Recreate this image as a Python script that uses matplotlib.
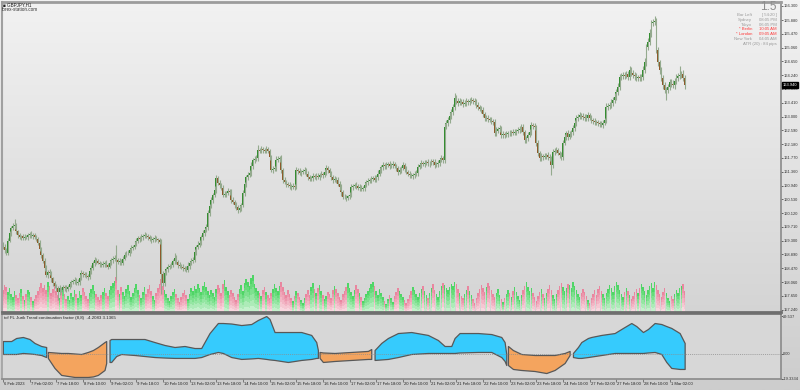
import numpy as np
import matplotlib.pyplot as plt
from matplotlib.colors import LinearSegmentedColormap, to_rgb
from matplotlib.transforms import blended_transform_factory

plt.rcParams['font.family'] = ['Liberation Sans', 'DejaVu Sans']

# ---------------- data: GBPJPY H1, 410 bars ----------------
first_open = 159.20
close = [
    159.12, 159.02, 158.94, 159.30, 159.52, 159.68, 159.74, 159.77, 159.58, 159.47,
    159.41, 159.44, 159.38, 159.42, 159.40, 159.46, 159.49, 159.44, 159.47, 159.40,
    159.35, 159.24, 159.05, 158.88, 158.70, 158.49, 158.28, 158.36, 158.34, 158.18,
    158.04, 157.96, 157.90, 157.78, 157.88, 157.84, 157.92, 157.90, 157.86, 157.93,
    158.00, 158.07, 158.10, 158.13, 158.04, 158.07, 158.20, 158.34, 158.30, 158.28,
    158.25, 158.22, 158.38, 158.49, 158.62, 158.73, 158.68, 158.64, 158.60, 158.58,
    158.61, 158.64, 158.57, 158.52, 158.63, 158.73, 158.76, 158.79, 158.73, 158.66,
    158.70, 158.64, 158.76, 158.88, 158.92, 158.94, 159.02, 159.09, 159.12, 159.18,
    159.30, 159.38, 159.36, 159.41, 159.45, 159.47, 159.43, 159.41, 159.36, 159.32,
    159.35, 159.38, 159.34, 159.32, 159.26, 158.30, 158.04, 158.34, 158.45, 158.52,
    158.55, 158.58, 158.70, 158.79, 158.66, 158.58, 158.55, 158.52, 158.49, 158.46,
    158.43, 158.55, 158.64, 158.70, 158.73, 158.95, 159.12, 159.18, 159.24, 159.40,
    159.53, 159.62, 159.71, 160.13, 160.33, 160.52, 160.66, 160.81, 161.17, 161.02,
    160.95, 160.87, 160.67, 160.70, 160.72, 160.78, 160.75, 160.52, 160.45, 160.37,
    160.30, 160.22, 160.28, 160.37, 160.72, 160.98, 161.20, 161.26, 161.32, 161.52,
    161.71, 161.74, 161.77, 162.00, 161.97, 162.02, 162.00, 161.98, 162.02, 161.96,
    161.80, 161.41, 161.44, 161.47, 161.71, 161.74, 161.77, 161.41, 161.11, 161.05,
    160.99, 160.96, 160.93, 160.90, 160.94, 160.90, 161.41, 161.38, 161.33, 161.35,
    161.38, 161.41, 161.30, 161.20, 161.15, 161.17, 161.22, 161.20, 161.24, 161.21,
    161.26, 161.29, 161.26, 161.36, 161.47, 161.40, 161.32, 161.20, 161.11, 161.14,
    161.11, 161.00, 160.90, 160.74, 160.61, 160.60, 160.58, 160.62, 160.67, 160.90,
    160.93, 160.96, 160.92, 160.88, 160.90, 160.85, 160.87, 160.97, 161.05, 161.08,
    161.11, 161.14, 161.17, 161.12, 161.20, 161.30, 161.41, 161.50, 161.56, 161.52,
    161.56, 161.58, 161.53, 161.56, 161.59, 161.52, 161.47, 161.35, 161.42, 161.47,
    161.56, 161.44, 161.35, 161.30, 161.26, 161.24, 161.26, 161.30, 161.32, 161.50,
    161.56, 161.62, 161.60, 161.63, 161.65, 161.61, 161.62, 161.66, 161.65, 161.56,
    161.60, 161.62, 161.70, 161.77, 161.71, 162.69, 162.80, 162.90, 163.02, 163.14,
    163.29, 163.56, 163.48, 163.41, 163.46, 163.44, 163.38, 163.41, 163.47, 163.44,
    163.48, 163.50, 163.47, 163.44, 163.36, 163.29, 163.24, 163.20, 163.08, 162.96,
    162.96, 162.93, 162.90, 162.87, 162.84, 162.51, 162.58, 162.63, 162.66, 162.45,
    162.48, 162.45, 162.49, 162.51, 162.50, 162.54, 162.52, 162.54, 162.57, 162.60,
    162.64, 162.69, 162.54, 162.30, 162.36, 162.45, 162.54, 162.75, 162.72, 162.69,
    162.21, 161.91, 161.77, 161.82, 161.80, 161.83, 161.85, 161.80, 161.77, 161.56,
    161.94, 161.97, 162.00, 161.92, 161.85, 161.80, 162.21, 162.38, 162.51, 162.39,
    162.47, 162.54, 162.66, 162.81, 162.96, 163.00, 163.05, 163.02, 162.99, 162.97,
    162.96, 163.05, 162.97, 162.90, 162.87, 162.84, 162.83, 162.81, 162.78, 162.75,
    162.82, 162.90, 163.29, 163.32, 163.35, 163.42, 163.50, 163.59, 163.74, 163.88,
    164.18, 164.21, 164.24, 164.22, 164.27, 164.18, 164.39, 164.30, 164.24, 164.20,
    164.15, 164.17, 164.15, 164.18, 164.40, 164.63, 165.08, 165.23, 165.50, 165.79,
    165.82, 165.85, 164.99, 164.63, 164.39, 164.15, 163.94, 163.79, 163.80, 163.88,
    164.03, 163.98, 163.94, 164.06, 164.15, 164.20, 164.24, 164.28, 164.15, 163.94,
]
# upper / lower shadows in pips (0.01)
wick_up = [
    6, 8, 5, 9, 7, 6, 10, 18, 6, 5, 7, 4, 6, 8, 5, 7, 6, 9, 5, 6,
    7, 5, 8, 6, 4, 9, 7, 5, 8, 6, 5, 7, 4, 6, 9, 5, 7, 6, 8, 5,
    6, 7, 5, 9, 6, 8, 10, 7, 5, 6, 8, 5, 7, 9, 6, 8, 5, 7, 6, 5,
    8, 6, 7, 5, 9, 6, 8, 7, 39, 6, 8, 5, 7, 9, 6, 8, 5, 7, 6, 10,
    8, 6, 7, 9, 5, 8, 6, 7, 5, 9, 6, 8, 7, 5, 6, 8, 10, 7, 6, 9,
    6, 8, 5, 15, 7, 6, 9, 5, 8, 6, 7, 10, 6, 8, 7, 9, 6, 12, 8, 7,
    9, 6, 10, 8, 7, 9, 6, 11, 10, 7, 8, 6, 9, 7, 5, 8, 6, 9, 7, 6,
    8, 7, 9, 6, 10, 8, 7, 9, 8, 12, 7, 9, 8, 15, 7, 10, 8, 6, 9, 7,
    8, 6, 9, 7, 10, 8, 6, 9, 7, 8, 6, 7, 9, 5, 8, 6, 9, 7, 8, 6,
    7, 9, 6, 8, 7, 5, 9, 6, 8, 7, 6, 9, 7, 8, 10, 6, 8, 7, 5, 9,
    6, 8, 7, 9, 6, 8, 7, 5, 9, 8, 6, 7, 9, 6, 8, 7, 5, 8, 6, 9,
    7, 8, 6, 9, 7, 10, 8, 6, 9, 7, 8, 6, 10, 7, 9, 6, 8, 7, 9, 6,
    8, 7, 9, 6, 8, 7, 5, 9, 8, 10, 7, 9, 6, 8, 7, 9, 6, 8, 7, 9,
    6, 8, 7, 9, 6, 12, 10, 9, 11, 10, 8, 15, 9, 8, 10, 7, 9, 8, 10, 7,
    9, 8, 7, 10, 8, 9, 7, 8, 10, 7, 9, 8, 6, 9, 7, 8, 10, 7, 9, 6,
    8, 7, 9, 6, 8, 7, 10, 8, 6, 9, 7, 8, 10, 7, 6, 9, 8, 10, 7, 8,
    7, 9, 6, 8, 7, 9, 6, 8, 7, 5, 10, 8, 9, 7, 6, 8, 10, 9, 7, 8,
    9, 7, 10, 8, 9, 8, 10, 7, 9, 8, 11, 9, 7, 8, 6, 9, 7, 8, 6, 9,
    8, 7, 12, 9, 8, 10, 9, 11, 8, 12, 10, 9, 8, 10, 9, 8, 12, 9, 8, 10,
    9, 8, 10, 9, 11, 12, 10, 11, 12, 9, 10, 15, 8, 9, 7, 10, 8, 9, 7, 10,
    9, 8, 10, 9, 12, 10, 27, 9, 11, 8,
]
wick_dn = [
    7, 10, 6, 8, 5, 7, 6, 8, 7, 9, 6, 8, 5, 7, 6, 8, 7, 5, 9, 6,
    6, 8, 7, 9, 8, 10, 7, 9, 8, 10, 9, 8, 10, 25, 9, 8, 7, 9, 8, 6,
    7, 9, 6, 8, 7, 5, 9, 6, 8, 7, 6, 9, 7, 8, 6, 9, 7, 5, 8, 6,
    7, 9, 6, 8, 5, 7, 9, 8, 60, 7, 9, 6, 8, 5, 7, 6, 9, 8, 6, 7,
    5, 7, 9, 6, 8, 7, 5, 9, 7, 8, 6, 9, 5, 8, 7, 60, 10, 8, 6, 9,
    7, 8, 6, 9, 7, 10, 8, 6, 9, 7, 8, 6, 9, 7, 8, 6, 9, 7, 8, 6,
    7, 9, 6, 8, 10, 7, 9, 6, 8, 7, 9, 6, 8, 7, 9, 6, 8, 10, 7, 9,
    8, 10, 7, 9, 6, 8, 7, 9, 6, 8, 7, 9, 6, 8, 7, 6, 9, 7, 8, 6,
    9, 7, 8, 6, 9, 7, 8, 10, 9, 7, 8, 6, 9, 8, 7, 9, 6, 8, 7, 9,
    6, 8, 7, 9, 8, 6, 9, 7, 8, 6, 9, 7, 8, 6, 9, 7, 8, 10, 9, 7,
    8, 7, 9, 10, 8, 7, 9, 6, 8, 7, 9, 6, 8, 7, 9, 8, 6, 9, 7, 8,
    6, 9, 7, 8, 6, 9, 7, 8, 10, 7, 9, 6, 8, 7, 9, 6, 8, 10, 7, 9,
    7, 9, 6, 8, 10, 7, 9, 8, 6, 9, 7, 8, 6, 9, 7, 8, 10, 7, 9, 8,
    7, 9, 8, 6, 9, 8, 7, 9, 8, 10, 9, 8, 10, 9, 7, 8, 9, 7, 8, 10,
    8, 7, 9, 8, 10, 9, 8, 10, 9, 8, 10, 9, 7, 8, 10, 9, 8, 7, 9, 10,
    8, 9, 7, 10, 8, 9, 7, 8, 9, 7, 8, 10, 9, 8, 10, 9, 7, 8, 9, 10,
    9, 8, 10, 9, 8, 7, 9, 8, 10, 30, 8, 9, 7, 8, 9, 10, 8, 7, 9, 8,
    7, 9, 8, 10, 9, 8, 7, 9, 8, 10, 9, 8, 7, 9, 8, 10, 9, 8, 9, 7,
    9, 8, 10, 9, 8, 9, 10, 8, 9, 10, 9, 8, 10, 9, 8, 9, 10, 8, 9, 10,
    9, 10, 8, 9, 10, 9, 11, 10, 9, 12, 10, 9, 10, 11, 12, 10, 11, 9, 29, 10,
    9, 10, 8, 11, 9, 10, 8, 10, 9, 11,
]
# tick volume, hundreds of ticks
vol = [
    22, 27, 25, 20, 24, 18, 15, 21, 17, 14, 19, 23, 16, 12, 18, 22, 20, 15, 11, 13,
    17, 21, 25, 29, 24, 27, 22, 30, 26, 19, 23, 28, 21, 17, 14, 20, 24, 18, 13, 16,
    12, 19, 15, 22, 18, 14, 21, 17, 24, 20, 16, 13, 19, 23, 27, 21, 18, 15, 12, 17,
    20, 24, 19, 16, 22, 26, 29, 31, 35, 22, 18, 25, 20, 16, 23, 27, 21, 15, 19, 24,
    28, 22, 17, 14, 20, 25, 18, 23, 27, 21, 16, 12, 19, 24, 28, 33, 26, 22, 18, 14,
    11, 16, 20, 23, 18, 14, 10, 15, 19, 22, 17, 13, 18, 24, 21, 26, 23, 28, 24, 20,
    26, 30, 25, 21, 17, 22, 19, 15, 23, 27, 24, 19, 28, 32, 25, 21, 17, 22, 19, 15,
    12, 18, 23, 27, 21, 29, 33, 30, 26, 34, 37, 28, 24, 21, 19, 16, 22, 25, 20, 17,
    14, 19, 23, 28, 24, 21, 26, 30, 25, 20, 17, 22, 18, 14, 11, 16, 21, 19, 15, 12,
    9, 14, 18, 22, 17, 25, 29, 23, 19, 24, 27, 21, 17, 13, 16, 20, 18, 14, 22, 26,
    23, 19, 15, 12, 18, 21, 25, 29, 24, 20, 16, 22, 27, 23, 19, 15, 11, 14, 18, 21,
    24, 28, 30, 26, 21, 17, 23, 19, 15, 11, 8, 13, 17, 14, 10, 16, 20, 24, 21, 18,
    15, 12, 9, 13, 17, 21, 25, 22, 18, 15, 19, 23, 26, 21, 17, 14, 19, 24, 28, 22,
    18, 15, 21, 26, 29, 27, 24, 22, 25, 28, 26, 30, 28, 23, 19, 16, 14, 18, 22, 26,
    21, 17, 13, 9, 14, 19, 23, 27, 24, 20, 25, 29, 26, 22, 18, 15, 19, 23, 17, 13,
    10, 14, 18, 22, 19, 15, 21, 25, 20, 16, 12, 17, 22, 26, 30, 25, 21, 24, 19, 15,
    11, 16, 20, 23, 18, 14, 19, 23, 27, 22, 17, 13, 18, 22, 26, 29, 25, 21, 24, 28,
    27, 24, 30, 26, 22, 18, 15, 19, 23, 20, 16, 12, 9, 14, 18, 22, 17, 23, 26, 21,
    18, 14, 19, 23, 27, 24, 20, 26, 30, 27, 22, 18, 15, 20, 24, 21, 17, 13, 16, 20,
    23, 19, 24, 28, 25, 21, 17, 22, 26, 29, 24, 30, 27, 22, 18, 15, 20, 24, 19, 14,
    11, 16, 13, 18, 22, 19, 24, 26, 28, 21,
]

price_ticks = [166.300, 165.880, 165.470, 165.060, 164.650, 164.240, 163.830,
               163.410, 163.000, 162.590, 162.180, 161.770, 161.360, 160.940,
               160.530, 160.120, 159.710, 159.300, 158.890, 158.470, 158.060,
               157.650, 157.240]
last_price = 163.940

time_labels = ['6 Feb 2023', '7 Feb 02:00', '7 Feb 18:00', '8 Feb 10:00', '9 Feb 02:00',
               '9 Feb 18:00', '10 Feb 10:00', '13 Feb 02:00', '13 Feb 18:00', '14 Feb 10:00',
               '15 Feb 02:00', '15 Feb 18:00', '16 Feb 10:00', '17 Feb 02:00', '17 Feb 18:00',
               '20 Feb 10:00', '21 Feb 02:00', '21 Feb 18:00', '22 Feb 10:00', '23 Feb 02:00',
               '23 Feb 18:00', '24 Feb 10:00', '27 Feb 02:00', '27 Feb 18:00', '28 Feb 10:00',
               '1 Mar 02:00']
label_step = 16

# Jurik trend continuation factor (upper / lower band, trend state)
ind_bar = [0, 5, 8, 12, 16, 19, 23, 26,
           27, 31, 35, 39, 43, 47, 51, 54, 57, 61, 62,
           64, 65, 68, 71, 79, 85, 91, 97, 103, 109, 115, 119, 124, 129, 132, 137, 143, 149,
           153, 158, 160, 163, 171, 179, 185, 188, 189,
           190, 192, 199, 209, 219, 221,
           223, 227, 231, 237, 245, 255, 261, 265, 269, 271, 274, 285, 293, 299, 301, 302,
           303, 306, 311, 319, 326, 331, 337, 340,
           342, 345, 347, 351, 353, 359, 367, 372, 377, 380, 384, 387, 391, 395, 398, 401,
           406, 409]
ind_up = [10.2, 10.2, 12.6, 13.4, 11.8, 8.7, 6.3, 5.5,
          1.6, 1.2, 0.8, 0.8, 0.4, 0.0, 1.6, 3.1, 5.5, 9.4, 10.2,
          11.0, 11.8, 11.8, 11.8, 11.8, 11.8, 9.4, 7.1, 5.5, 6.3, 4.7, 4.7, 16.5, 24.4, 24.4,
          24.0, 22.8, 23.6, 26.8, 29.9, 27.6, 17.3, 17.3, 17.3, 15.0, 9.4, 3.1,
          1.6, 1.2, 0.8, 1.6, 2.4, 3.9,
          3.1, 8.7, 12.6, 16.5, 17.3, 15.0, 11.0, 6.3, 6.3, 12.6, 16.5, 16.5, 15.7, 13.4, 9.4, 0.0,
          6.3, 3.1, 0.0, -0.8, -0.8, -0.8, 0.8, 2.4,
          0.8, 5.5, 9.4, 12.6, 13.4, 15.0, 16.5, 20.5, 24.4, 22.0, 17.3, 19.7, 24.4, 23.6,
          22.0, 20.5, 16.5, 8.7]
ind_dn = [0.0, 0.0, 0.0, 0.8, 0.4, 0.0, -0.8, -2.4,
          -3.1, -11.0, -16.5, -17.3, -18.1, -18.1, -18.1, -17.7, -16.5, -12.6, -7.1,
          -6.3, -6.3, -1.6, 0.0, -0.8, -1.6, -2.4, -2.8, -3.1, -3.1, -3.1, -2.4, 0.0, 1.6, 0.8,
          -2.4, -3.9, -3.5, -3.1, -3.9, -4.3, -4.7, -6.3, -4.7, -3.9, -3.1, -3.1,
          -3.1, -6.3, -5.5, -4.7, -3.9, -3.9,
          -4.7, -4.3, -3.9, -2.4, 0.0, 0.8, 0.8, 0.8, 0.8, 0.8, 1.2, 1.6, 1.6, -2.4, -5.5, -8.7,
          -8.7, -11.8, -12.6, -13.4, -15.0, -12.6, -7.1, -0.8,
          -2.4, -3.1, -3.1, -2.4, -2.0, -0.8, 0.8, 0.8, 0.8, 0.8, 0.8, 1.2, 1.6, 0.0,
          -6.3, -11.0, -11.8, -11.8]
ind_trend = [1] * 8 + [-1] * 11 + [1] * 27 + [-1] * 6 + [1] * 16 + [-1] * 8 + [1] * 18
ind_ticks = [29.537, 0.0, -19.3334]
ind_ticklabels = ['29.537', '0.00', '-19.3334']

# ---------------- figure ----------------
W, H = 800, 390
fig = plt.figure(figsize=(W / 100, H / 100), dpi=100)


def box(x0, y0, x1, y1):
    # pixel box (top-left origin) -> figure fraction
    return [x0 / W, 1 - y1 / H, (x1 - x0) / W, (y1 - y0) / H]


bg = fig.add_axes([0, 0, 1, 1], zorder=-10)
bg.imshow(np.linspace(0, 1, 256).reshape(-1, 1), aspect='auto', extent=[0, 1, 0, 1],
          cmap=LinearSegmentedColormap.from_list('bg', ['#f2f2f2', '#cdcdcd']))
bg.axis('off')

ax = fig.add_axes(box(2, 2, 781, 312))
ax.set_facecolor('none')
axv = ax.twinx()
axv.set_zorder(ax.get_zorder() - 1)
ax.set_zorder(axv.get_zorder() + 1)
ax2 = fig.add_axes(box(2, 314, 781, 379))
ax2.set_facecolor('#d7d7d7')

c = np.array(close)
n = len(c)
o = np.r_[first_open, c[:-1]]
hi = np.maximum(o, c) + np.array(wick_up) * 0.01
lo = np.minimum(o, c) - np.array(wick_dn) * 0.01
x = np.arange(n)
bull = c >= o

# volumes with fading gradient
v = np.array(vol, dtype=float)
green, pink = np.array(to_rgb('#4fd566')), np.array(to_rgb('#e9869f'))
layers = 6
for j in range(layers):
    fade = 0.8 * (1 - (j + 1) / layers)
    for mask, base in ((bull, green), (~bull, pink)):
        col = base + (1 - base) * fade
        axv.bar(x[mask], v[mask] / layers, bottom=v[mask] * j / layers, width=0.9,
                color=col, lw=0)
axv.set_ylim(0, max(vol) * 310 / 37)
axv.axis('off')

# candles
ax.vlines(x, lo, hi, color='#94aa8e', lw=0.8)
body = np.maximum(np.abs(c - o), 0.015)
ax.bar(x[bull], body[bull], bottom=o[bull], width=0.95, color='#2f8c2c', lw=0)
ax.bar(x[~bull], body[~bull], bottom=c[~bull], width=0.95, color='#8e5626', lw=0)

xlim = (-0.5, -0.5 + 779 / 1.667)
ax.set_xlim(*xlim)
axv.set_xlim(*xlim)
ax.set_ylim(157.171, 166.419)
ax.yaxis.tick_right()
ax.set_yticks(price_ticks)
ax.set_yticklabels(['%.3f' % p for p in price_ticks])
ax.tick_params(axis='y', labelsize=2.9, length=1.2, width=0.5, pad=0.4, colors='#333333')
ax.set_xticks([])
for s, (col, lw) in {'top': ('#9c9c9c', 2), 'left': ('#a0a0a0', 1.5),
                     'right': ('#8a8a8a', 1.2), 'bottom': ('#6e6e6e', 2)}.items():
    ax.spines[s].set_color(col)
    ax.spines[s].set_linewidth(lw)

yb = blended_transform_factory(ax.transAxes, ax.transData)
ax.text(1.002, last_price, '%.3f' % last_price, transform=yb, ha='left', va='center',
        fontsize=2.9, color='white',
        bbox=dict(boxstyle='square,pad=0.25', fc='black', ec='black'))

# indicator
ib = np.array(ind_bar)
iu = np.array(ind_up)
idn = np.array(ind_dn)
start = 0
for k in range(1, len(ib) + 1):
    if k == len(ib) or ind_trend[k] != ind_trend[start]:
        sl = slice(start, k)
        col = '#36cbfd' if ind_trend[start] > 0 else '#f4a45e'
        ax2.fill_between(ib[sl], idn[sl], iu[sl], facecolor=col, edgecolor='#585858', lw=0.9)
        start = k
ax2.axhline(0, color='#8c8c8c', lw=0.5, ls=(0, (1.5, 1.5)))
ax2.set_xlim(*xlim)
ax2.set_ylim(-19.7, 31.5)
ax2.yaxis.tick_right()
ax2.set_yticks(ind_ticks)
ax2.set_yticklabels(ind_ticklabels)
ax2.tick_params(axis='y', labelsize=2.9, length=1.2, width=0.5, pad=0.4, colors='#333333')
ticks = [k * label_step for k in range(len(time_labels))]
ax2.set_xticks(ticks)
ax2.set_xticklabels([])
ax2.tick_params(axis='x', length=2.5, width=0.5, colors='#555555')
xb = blended_transform_factory(ax2.transData, ax2.transAxes)
for t, lab in zip(ticks, time_labels):
    ax2.text(t + 0.6, -0.05, lab, transform=xb, ha='left', va='top', fontsize=3.0,
             color='#222222')
for s, col in {'top': '#6e6e6e', 'left': '#a0a0a0', 'right': '#8a8a8a',
               'bottom': '#8a8a8a'}.items():
    ax2.spines[s].set_color(col)
    ax2.spines[s].set_linewidth(1.2)
ax2.text(0.002, 0.97, 'tcf FL Jurik Trend continuation factor (8,8)  -4.2083 3.1365',
         transform=ax2.transAxes, ha='left', va='top', fontsize=3.2, color='#222222')

# header texts


def ftext(px, py, s, **kw):
    fig.text(px / W, 1 - py / H, s, **kw)


ftext(3, 4.5, '\u25a0 GBPJPY,H1', fontsize=3.3, va='center', color='#222222')
ftext(2, 9.5, 'forex-station.com', fontsize=3.3, va='center', color='#333333')
ftext(777, 7, '1.5', fontsize=8.5, ha='right', va='center', color='#8d8d8d')
info = [('Bar Left', '[ 54:20 ]', '#9a9a9a'),
        ('Sydney', '08:05 PM', '#9a9a9a'),
        ('Tokyo', '06:05 PM', '#9a9a9a'),
        ('* Berlin', '10:05 AM', '#ff3a3a'),
        ('* London', '09:05 AM', '#ff3a3a'),
        ('New York', '04:05 AM', '#9a9a9a')]
for r, (name, val, col) in enumerate(info):
    yy = 15.3 + r * 4.7
    ftext(752, yy, name, fontsize=3.1, ha='right', va='center', color=col)
    ftext(777, yy, val, fontsize=3.1, ha='right', va='center', color=col)
ftext(777, 15.3 + 6 * 4.7, 'ATR (20) : 84 pips', fontsize=3.1, ha='right', va='center',
      color='#9a9a9a')

fig.savefig('out.png', dpi=100)
